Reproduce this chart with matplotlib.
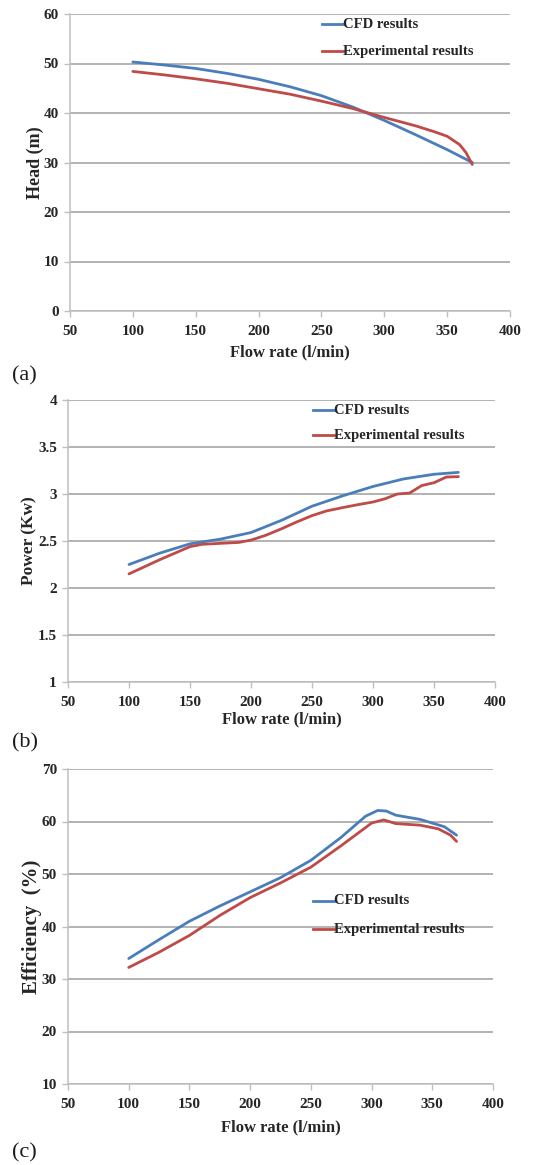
import matplotlib
matplotlib.use("Agg")
import matplotlib.pyplot as plt

# Head vs flow rate
head_flow_cfd = [100, 125, 150, 175, 200, 225, 250, 275, 300, 325, 350, 370]
head_cfd = [50.3, 49.7, 49.0, 48.0, 46.8, 45.3, 43.5, 41.2, 38.5, 35.6, 32.6, 30.0]
head_flow_exp = [100, 125, 150, 175, 200, 225, 250, 275, 300, 325, 340, 350, 360, 365, 370]
head_exp = [48.4, 47.7, 46.9, 46.0, 44.9, 43.8, 42.4, 40.9, 39.1, 37.4, 36.2, 35.3, 33.6, 32.0, 29.6]

# Power vs flow rate
power_flow_cfd = [100, 125, 150, 175, 200, 225, 250, 275, 300, 325, 350, 370]
power_cfd = [2.25, 2.37, 2.47, 2.52, 2.59, 2.72, 2.87, 2.98, 3.08, 3.16, 3.21, 3.23]
power_flow_exp = [100, 125, 150, 160, 175, 190, 200, 212, 225, 237, 250, 262, 275, 287,
                  300, 310, 320, 330, 340, 350, 360, 370]
power_exp = [2.15, 2.30, 2.44, 2.465, 2.475, 2.485, 2.51, 2.56, 2.63, 2.70, 2.77, 2.82,
             2.855, 2.885, 2.915, 2.95, 3.00, 3.01, 3.09, 3.12, 3.18, 3.185]

# Efficiency vs flow rate
eff_flow_cfd = [100, 125, 150, 175, 200, 225, 250, 275, 295, 305, 312, 320, 340, 360, 370]
eff_cfd = [33.9, 37.5, 41.0, 43.9, 46.6, 49.3, 52.6, 57.0, 61.0, 62.1, 62.0, 61.2, 60.4, 59.0, 57.4]
eff_flow_exp = [100, 125, 150, 175, 200, 225, 250, 275, 300, 310, 320, 340, 355, 365, 370]
eff_exp = [32.2, 35.1, 38.3, 42.1, 45.5, 48.3, 51.3, 55.4, 59.7, 60.3, 59.6, 59.3, 58.6, 57.4, 56.2]

x_ticks = [50, 100, 150, 200, 250, 300, 350, 400]
series_labels = ["CFD results", "Experimental results"]
panel_tags = ["(a)", "(b)", "(c)"]

BLUE = "#4A7EBB"
RED = "#BE4B48"
GRID = "#A6A6A6"
SPINE = "#BFBFBF"
TEXT = "#262626"
SERIF = ["Liberation Serif", "DejaVu Serif"]

W, H = 539, 1165
fig = plt.figure(figsize=(W / 100, H / 100), dpi=100)


def box(left, top, right, bottom):
    return [left / W, 1 - bottom / H, (right - left) / W, (bottom - top) / H]


panels = [
    dict(rect=box(70, 14, 510, 311), ylim=(0, 60), yticks=[0, 10, 20, 30, 40, 50, 60],
         ylabels=None, ylabel="Head (m)", ylabel_size=13, ylabelpad=0, xlabelpad=5,
         cfd=(head_flow_cfd, head_cfd), exp=(head_flow_exp, head_exp),
         leg=(322, 24, 51), tag_y=376),
    dict(rect=box(68, 400, 495, 682), ylim=(1, 4), yticks=[1, 1.5, 2, 2.5, 3, 3.5, 4],
         ylabels=["1", "1.5", "2", "2.5", "3", "3.5", "4"], ylabel="Power (Kw)",
         ylabel_size=12.5, ylabelpad=0, xlabelpad=2,
         cfd=(power_flow_cfd, power_cfd), exp=(power_flow_exp, power_exp),
         leg=(313, 410, 435), tag_y=743),
    dict(rect=box(68, 769, 493, 1084), ylim=(10, 70), yticks=[10, 20, 30, 40, 50, 60, 70],
         ylabels=None, ylabel="Efficiency  (%)", ylabel_size=15, ylabelpad=0, xlabelpad=6,
         cfd=(eff_flow_cfd, eff_cfd), exp=(eff_flow_exp, eff_exp),
         leg=(313, 901, 929), tag_y=1153),
]

for p, tag in zip(panels, panel_tags):
    ax = fig.add_axes(p["rect"])
    ax.set_xlim(50, 400)
    ax.set_ylim(*p["ylim"])
    ax.set_xticks(x_ticks)
    ax.set_yticks(p["yticks"])
    if p["ylabels"]:
        ax.set_yticklabels(p["ylabels"])
    ax.grid(axis="y", color=GRID, linewidth=1.2)
    ax.set_axisbelow(True)
    for s in ["top", "right"]:
        ax.spines[s].set_visible(False)
    for s in ["left", "bottom"]:
        ax.spines[s].set_color(SPINE)
        ax.spines[s].set_linewidth(1.1)
    ax.tick_params(axis="both", direction="out", length=4, width=1.0, color=SPINE)
    ax.tick_params(axis="x", pad=6)
    ax.tick_params(axis="y", pad=4)
    for lab in ax.get_xticklabels() + ax.get_yticklabels():
        lab.set_fontfamily(SERIF)
        lab.set_fontweight("bold")
        lab.set_fontsize(11)
        lab.set_color(TEXT)

    ax.plot(*p["cfd"], color=BLUE, linewidth=2.0, solid_capstyle="round",
            solid_joinstyle="round", zorder=3)
    ax.plot(*p["exp"], color=RED, linewidth=2.0, solid_capstyle="round",
            solid_joinstyle="round", zorder=3)

    ax.set_xlabel("Flow rate (l/min)", fontfamily=SERIF, fontweight="bold",
                  fontsize=12, color=TEXT, labelpad=p["xlabelpad"])
    ax.set_ylabel(p["ylabel"], fontfamily=SERIF, fontweight="bold",
                  fontsize=p["ylabel_size"], color=TEXT, labelpad=p["ylabelpad"])

    # legend entries: short line sample followed by the series name
    lx, y1, y2 = p["leg"]
    for yy, col, txt in [(y1, BLUE, series_labels[0]), (y2, RED, series_labels[1])]:
        fy = 1 - yy / H
        fig.add_artist(plt.Line2D([lx / W, (lx + 21) / W], [fy, fy],
                                  color=col, linewidth=2.0, transform=fig.transFigure))
        fig.text((lx + 21) / W, fy, txt, fontfamily=SERIF, fontweight="bold",
                 fontsize=10.5, color=TEXT, va="center", ha="left")

    fig.text(12 / W, 1 - p["tag_y"] / H, tag, fontfamily=SERIF, fontsize=16,
             color="#1a1a1a", va="center", ha="left")

fig.savefig("out.png", dpi=100, facecolor="white")
